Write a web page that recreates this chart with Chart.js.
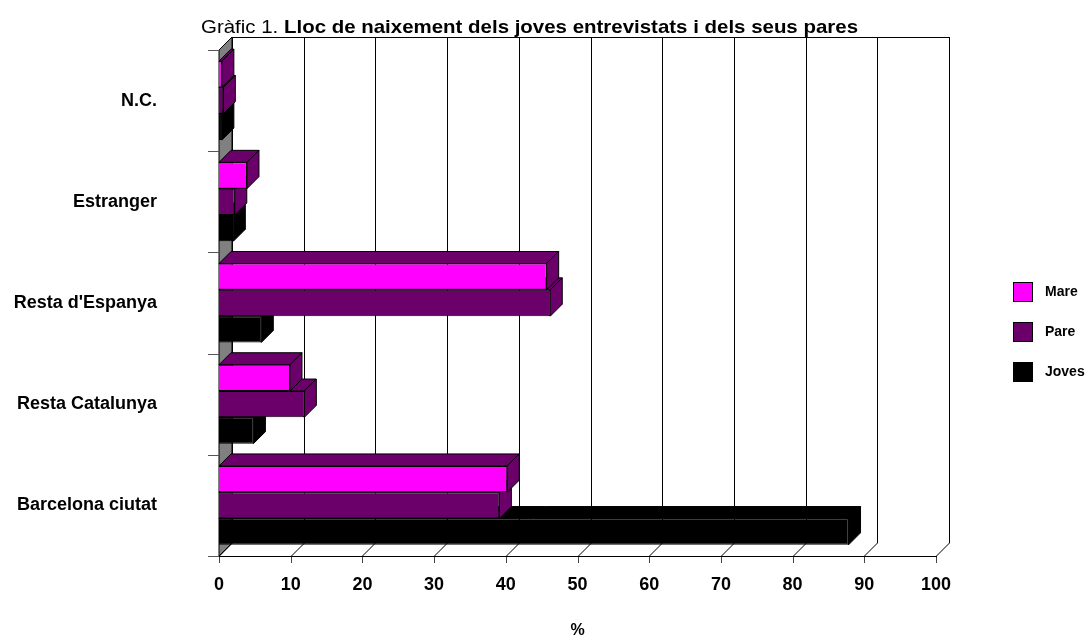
<!DOCTYPE html>
<html>
<head>
<meta charset="utf-8">
<script src="https://cdn.jsdelivr.net/npm/chart.js@4"></script>
<style>
  html, body { margin: 0; padding: 0; background: #fff; }
</style>
</head>
<body>
<canvas id="myChart" width="1087" height="644"></canvas>
<script>
const categories = ['N.C.', 'Estranger', "Resta d'Espanya", 'Resta Catalunya', 'Barcelona ciutat'];
const mare = [0.4, 3.9, 45.7, 9.9, 40.2];
const pare = [0.6, 2.2, 46.2, 11.9, 39.1];
const joves = [0.4, 2.0, 5.9, 4.8, 87.8];
const xTicks = [0, 10, 20, 30, 40, 50, 60, 70, 80, 90, 100];
const titleNormal = 'Gràfic 1. ';
const titleBold = 'Lloc de naixement dels joves entrevistats i dels seus pares';

const FONT = "'Liberation Sans', Arial, sans-serif";
const WALL = 13; // fondària de les parets
const DEPTH = 12; // fondària de les barres

function poly(ctx, pts) {
  ctx.beginPath();
  ctx.moveTo(pts[0][0], pts[0][1]);
  for (let i = 1; i < pts.length; i++) ctx.lineTo(pts[i][0], pts[i][1]);
  ctx.closePath();
  ctx.fill();
  ctx.stroke();
}

const threeD = {
  id: 'threeD',
  beforeDatasetsDraw(chart) {
    const ctx = chart.ctx;
    const a = chart.chartArea;
    const x = chart.scales.x;
    ctx.save();
    ctx.lineWidth = 1;
    ctx.strokeStyle = '#000';
    // paret esquerra grisa
    ctx.fillStyle = '#808080';
    poly(ctx, [[a.left, a.top], [a.left + WALL, a.top - WALL], [a.left + WALL, a.bottom - WALL], [a.left, a.bottom]]);
    // línies de la graella al fons i al terra
    xTicks.forEach(function (v) {
      const px = Math.round(x.getPixelForValue(v)) + 0.5;
      ctx.beginPath();
      ctx.moveTo(px + WALL, a.top - WALL);
      ctx.lineTo(px + WALL, a.bottom - WALL);
      ctx.lineTo(px, a.bottom);
      ctx.stroke();
      ctx.strokeStyle = '#444';
      ctx.beginPath();
      ctx.moveTo(px, a.bottom);
      ctx.lineTo(px, a.bottom + 7);
      ctx.stroke();
      ctx.strokeStyle = '#000';
    });
    ctx.beginPath();
    ctx.moveTo(a.left + WALL, a.top - WALL + 0.5);
    ctx.lineTo(a.right + WALL + 1, a.top - WALL + 0.5);
    ctx.stroke();
    ctx.beginPath();
    ctx.moveTo(a.left, a.bottom + 0.5);
    ctx.lineTo(a.right + 1, a.bottom + 0.5);
    ctx.stroke();
    // marques de l'eix de categories
    const band = (a.bottom - a.top) / categories.length;
    ctx.strokeStyle = '#555';
    for (let i = 0; i <= categories.length; i++) {
      const py = Math.round(a.top + i * band) + 0.5;
      ctx.beginPath();
      ctx.moveTo(a.left - 11, py);
      ctx.lineTo(a.left, py);
      ctx.stroke();
    }
    ctx.restore();
  },
  beforeDatasetDraw(chart, args) {
    const ctx = chart.ctx;
    const ds = chart.data.datasets[args.index];
    ctx.save();
    ctx.lineWidth = 1;
    ctx.strokeStyle = '#000';
    ctx.fillStyle = ds.sideColor;
    args.meta.data.forEach(function (bar) {
      const p = bar.getProps(['x', 'y', 'base', 'height'], true);
      const t = p.y - p.height / 2;
      const b = p.y + p.height / 2;
      poly(ctx, [[p.base, t], [p.base + DEPTH, t - DEPTH], [p.x + DEPTH, t - DEPTH], [p.x, t]]);
      poly(ctx, [[p.x, t], [p.x + DEPTH, t - DEPTH], [p.x + DEPTH, b - DEPTH], [p.x, b]]);
    });
    ctx.restore();
  },
  afterDraw(chart) {
    const ctx = chart.ctx;
    ctx.save();
    // títol
    ctx.textBaseline = 'alphabetic';
    ctx.fillStyle = '#000';
    ctx.font = '19px ' + FONT;
    const w1 = ctx.measureText(titleNormal).width;
    ctx.font = 'bold 19px ' + FONT;
    const w2 = ctx.measureText(titleBold).width;
    const sx = 657 / (w1 + w2);
    ctx.translate(201, 33);
    ctx.scale(sx, 1);
    ctx.font = '19px ' + FONT;
    ctx.fillText(titleNormal, 0, 0);
    ctx.font = 'bold 19px ' + FONT;
    ctx.fillText(titleBold, w1, 0);
    ctx.restore();
    // llegenda
    ctx.save();
    ctx.font = 'bold 14px ' + FONT;
    ctx.textBaseline = 'middle';
    chart.data.datasets.forEach(function (ds, i) {
      const cy = 292 + i * 40;
      ctx.fillStyle = ds.backgroundColor;
      ctx.strokeStyle = '#000';
      ctx.lineWidth = 1;
      ctx.fillRect(1013.5, cy - 9.5, 19, 19);
      ctx.strokeRect(1013.5, cy - 9.5, 19, 19);
      ctx.fillStyle = '#000';
      ctx.fillText(ds.label, 1045, cy);
    });
    ctx.restore();
  }
};

const ctx = document.getElementById('myChart').getContext('2d');
const chart = new Chart(ctx, {
  type: 'bar',
  data: {
    labels: categories,
    datasets: [
      { label: 'Mare', data: mare, backgroundColor: '#ff00ff', sideColor: '#6b006b' },
      { label: 'Pare', data: pare, backgroundColor: '#6b006b', sideColor: '#6b006b' },
      { label: 'Joves', data: joves, backgroundColor: '#000000', sideColor: '#000000' },
    ],
  },
  options: {
    responsive: false,
    animation: false,
    indexAxis: 'y',
    datasets: {
      bar: {
        borderColor: '#000',
        borderWidth: 1,
        categoryPercentage: 0.78,
        barPercentage: 1,
      },
    },
    layout: { padding: { top: 50, right: 151, left: 0, bottom: 0 } },
    plugins: {
      legend: { display: false },
      tooltip: { enabled: false },
    },
    scales: {
      x: {
        min: 0,
        max: 100,
        ticks: {
          stepSize: 10,
          color: '#000',
          padding: 18,
          font: { family: FONT, size: 18, weight: 'bold' },
        },
        grid: { display: false, drawTicks: false },
        border: { display: false },
        title: {
          display: true,
          text: '%',
          color: '#000',
          font: { family: FONT, size: 16, weight: 'bold' },
        },
        afterFit(s) { s.height = 88; },
      },
      y: {
        ticks: {
          color: '#000',
          padding: 62,
          font: { family: FONT, size: 18, weight: 'bold' },
        },
        grid: { display: false, drawTicks: false },
        border: { display: false },
        afterFit(s) {
          s.width = 219;
          s.paddingTop = 0;
          s.paddingBottom = 0;
        },
      },
    },
  },
  plugins: [threeD],
});
</script>
</body>
</html>
